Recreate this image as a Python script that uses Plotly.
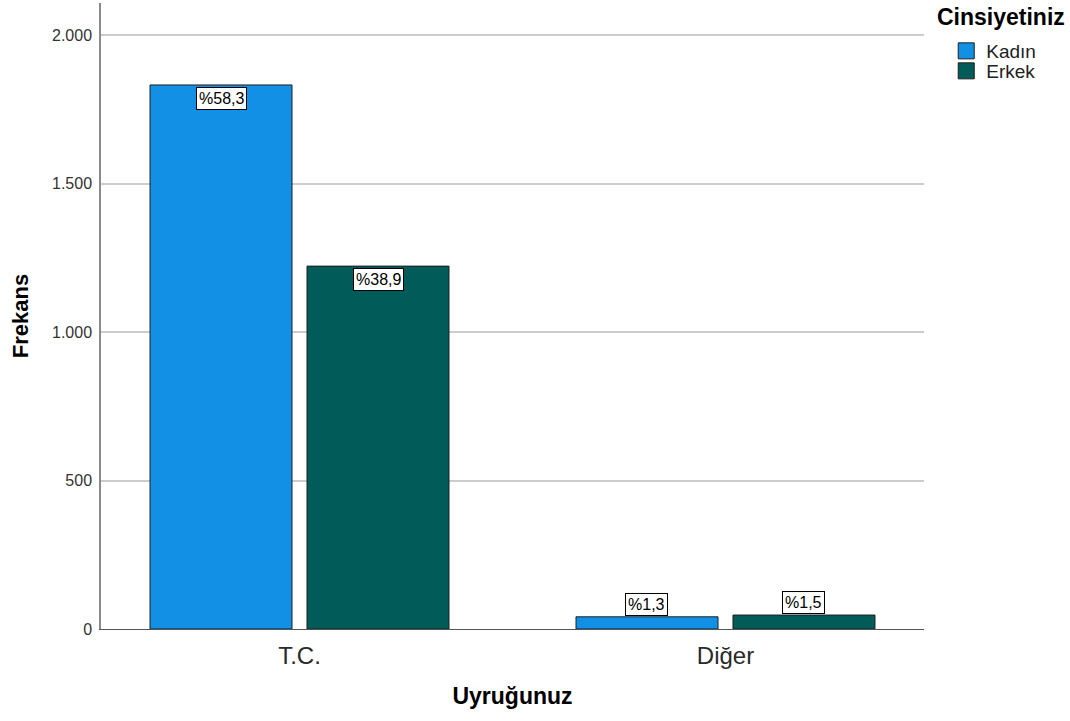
import plotly.graph_objects as go

# ---- data ----
categories = ["T.C.", "Diğer"]
series_names = ["Kadın", "Erkek"]
kadin_values = [1832, 41]
erkek_values = [1222, 47]
y_tick_values = [0, 500, 1000, 1500, 2000]

colors = {"Kadın": "#1290e6", "Erkek": "#015c59"}
series_values = {"Kadın": kadin_values, "Erkek": erkek_values}
total = sum(kadin_values) + sum(erkek_values)

FONT = "Arial, Liberation Sans, sans-serif"

fig = go.Figure()
for name in series_names:
    fig.add_trace(go.Bar(
        x=categories, y=series_values[name], name=name,
        marker=dict(color=colors[name], line=dict(color="#1e1e1e", width=1)),
        showlegend=False, hoverinfo="x+y+name",
    ))
# legend swatches (one legend per entry for tight spacing)
legend_ids = {"Kadın": "legend", "Erkek": "legend2"}
for name in series_names:
    fig.add_trace(go.Scatter(
        x=[None], y=[None], mode="markers", name=name,
        marker=dict(symbol="square", size=16, color=colors[name],
                    line=dict(color="#1e1e1e", width=1)),
        showlegend=True, legend=legend_ids[name],
    ))

# percentage labels
maxv = max(max(kadin_values), max(erkek_values))
shifts = {"Kadın": -78.5, "Erkek": 78.5}
for name in series_names:
    for cat, v in zip(categories, series_values[name]):
        pct = v / total * 100
        txt = "%" + f"{pct:.1f}".replace(".", ",")
        inside = v > 0.1 * maxv
        fig.add_annotation(
            x=cat, y=v, xref="x", yref="y", text=txt, showarrow=False,
            xshift=shifts[name], yshift=-2 if inside else 1,
            yanchor="top" if inside else "bottom",
            font=dict(family=FONT, size=16, color="#000"),
            bgcolor="#ffffff", bordercolor="#000000", borderwidth=1, borderpad=2,
        )

# legend title
fig.add_annotation(
    x=1.0134, y=1, xref="paper", yref="paper", xanchor="left", yanchor="middle",
    yshift=-14, text="<b>Cinsiyetiniz</b>", showarrow=False,
    font=dict(family=FONT, size=23, color="#000"),
)

leg_common = dict(x=1.027, xref="paper", yref="paper", xanchor="left", yanchor="middle",
                  font=dict(family=FONT, size=19, color="#222"),
                  bgcolor="rgba(0,0,0,0)", borderwidth=0, itemsizing="trace")

fig.update_layout(
    width=1070, height=721,
    margin=dict(l=101, r=146, t=3, b=92),
    plot_bgcolor="#ffffff", paper_bgcolor="#ffffff",
    barmode="group", bargap=0.263, bargroupgap=0.0955,
    separators=",.",
    font=dict(family=FONT, color="#000"),
    legend=dict(y=(629 - 51) / 626, **leg_common),
    legend2=dict(y=(629 - 71) / 626, **leg_common),
)

fig.update_xaxes(
    type="category", categoryorder="array", categoryarray=categories,
    range=[-0.466, 1.466],
    showline=True, linecolor="#555555", linewidth=1,
    ticks="", showgrid=False, zeroline=False,
    tickfont=dict(family=FONT, size=24, color="#2a2a2a"),
    ticklabelstandoff=5,
    title=dict(text="<b>Uyruğunuz</b>", font=dict(family=FONT, size=23, color="#000"),
               standoff=20),
)
fig.update_yaxes(
    range=[0, 2108], tickvals=y_tick_values, tickformat=",d",
    showline=True, linecolor="#8a8a8a", linewidth=1.5,
    ticks="", showgrid=True, gridcolor="#cccccc", gridwidth=1.5, zeroline=False,
    tickfont=dict(family=FONT, size=16, color="#333"),
    ticklabelstandoff=4,
    title=dict(text="<b>Frekans</b>", font=dict(family=FONT, size=22, color="#000"),
               standoff=17),
)

fig.write_html("out.html", config={"displayModeBar": False},
               post_script="document.body.style.margin='0';")
